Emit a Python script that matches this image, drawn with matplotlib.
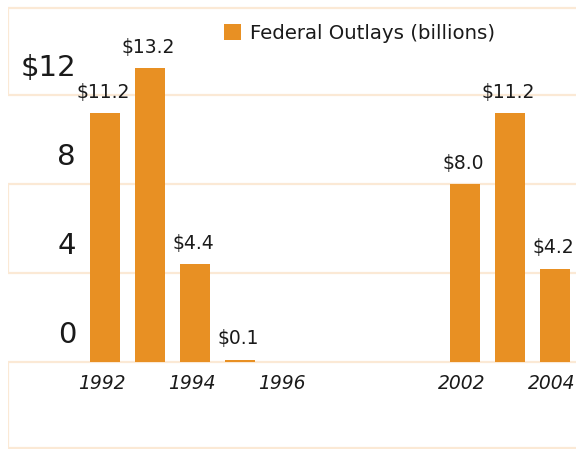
import numpy as np
import matplotlib
matplotlib.use("Agg")
import matplotlib.pyplot as plt
import matplotlib.transforms as mtransforms
from matplotlib.patches import Patch

plt.rcParams['font.family'] = ['DejaVu Sans']

# ---- data ----
years = ["1992", "1993", "1994", "1995", "1996", "", "", "", "2002", "2003", "2004"]
outlays = [11.2, 13.2, 4.4, 0.1, None, None, None, None, 8.0, 11.2, 4.2]
x_tick_labels = ["1992", "1994", "1996", "2002", "2004"]
y_ticks = [0, 4, 8, 12]
y_tick_labels = ["0", "4", "8", "$12"]
bands = [(12, 15.9), (4, 8), (-3.85, 0)]
series_name = "Federal Outlays (billions)"

BAR = "#E89023"
BAND = "#FBE9D5"
TXT = "#1a1a1a"

W, H = 576, 449
fig = plt.figure(figsize=(W / 100, H / 100), dpi=100)

# axes in pixel geometry (extends past right edge, as in reference)
left_px, right_px = 8, 620
ax = fig.add_axes([left_px / W, 0, (right_px - left_px) / W, 1])
cat_px = 45
first_center_px = 105
x0 = (left_px - first_center_px) / cat_px
x1 = x0 + (right_px - left_px) / cat_px
ax.set_xlim(x0, x1)
zero_px_from_top = 362
unit_px = 22.25
ymin = -(H - zero_px_from_top) / unit_px
ymax = ymin + H / unit_px
ax.set_ylim(ymin, ymax)
ax.axis("off")

# bands
for lo, hi in bands:
    ax.axhspan(lo, hi, xmin=0, xmax=1, facecolor="none", edgecolor=BAND,
               linewidth=1.6, zorder=1)

pos = np.arange(len(years))
xs = [p for p, v in zip(pos, outlays) if v is not None]
vs = [v for v in outlays if v is not None]
ax.bar(xs, vs, width=0.667, color=BAR, zorder=2)

# value labels
for x, v in zip(xs, vs):
    ax.annotate(f"${v:.1f}", (x, v), xytext=(-1, 11), textcoords="offset points",
                ha="center", va="baseline", fontsize=13.5, color=TXT, zorder=3)

# y labels inside plot area, above each gridline
ytrans = mtransforms.blended_transform_factory(ax.transAxes, ax.transData)
for t, lab in zip(y_ticks, y_tick_labels):
    ax.annotate(lab, ((76 - left_px) / (right_px - left_px), t),
                xycoords=ytrans, xytext=(0, 13.5), textcoords="offset points",
                ha="right", va="baseline", fontsize=21, color=TXT)

# x labels
for lab in x_tick_labels:
    p = years.index(lab)
    ax.annotate(lab, (p, 0), xytext=(-2.5, -19.5), textcoords="offset points",
                ha="center", va="baseline", fontsize=13.5, style="italic",
                color=TXT)

# legend
handle = Patch(facecolor=BAR, edgecolor="none")
fig.legend([handle], [series_name], loc="upper left",
           bbox_to_anchor=(224 / W, 1 - 24 / H), frameon=False,
           fontsize=14.2, handlelength=0.87, handleheight=0.87,
           handletextpad=0.45, borderpad=0, borderaxespad=0,
           labelcolor=TXT)

fig.savefig("out.png", dpi=100)
